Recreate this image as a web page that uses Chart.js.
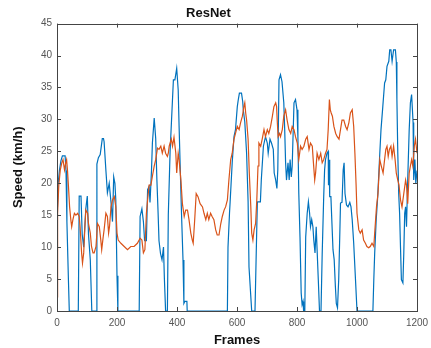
<!DOCTYPE html>
<html>
<head>
<meta charset="utf-8">
<script src="https://cdn.jsdelivr.net/npm/chart.js@4/dist/chart.umd.min.js"></script>
<style>
  html, body { margin: 0; padding: 0; background: #fff; }
  #wrap { width: 431px; height: 348px; }
</style>
</head>
<body>
<div id="wrap"><canvas id="myChart" width="431" height="348"></canvas></div>
<script>
// values (frame, speed)
let blueFrames = [0, 4, 8, 13, 18, 27, 30, 33, 38, 41, 71, 74, 80, 84, 89, 96, 101, 105, 111, 116, 130, 133, 138, 144, 151, 155, 157, 163, 168, 174, 180, 185, 189, 193, 196, 200, 203,
  274, 277, 283, 288, 292, 298, 302, 307, 310, 315, 318, 324, 329, 333, 337, 340, 345, 350, 355, 358, 362, 368, 371, 377, 388, 393, 399, 404, 407, 410, 415, 420, 423, 426, 433, 434,
  568, 570, 575, 577, 584, 590, 595, 601, 604, 608, 615, 619, 621, 626, 632, 637, 640, 649, 660, 666, 668, 678, 681, 688, 695, 701, 704, 710, 715, 721, 724, 729, 733, 736, 740, 745, 750, 756, 759, 762, 765, 770, 774, 777, 781, 784, 790, 795, 800,
  803, 806, 810, 814, 817, 820, 822, 826, 829, 834, 838, 842, 845, 849, 853, 856, 860, 864, 867, 871, 875, 880, 884, 889, 892, 895, 900, 904, 905, 907, 909, 913, 916, 920, 924, 928, 931, 935, 939, 943, 945, 950, 954, 957, 960, 965, 970, 976, 980, 984, 989, 995, 1000,
  1053, 1056, 1059, 1064, 1069, 1076, 1080, 1086, 1092, 1096, 1100, 1106, 1109, 1113, 1117, 1122, 1128, 1131, 1133, 1136, 1139, 1142, 1145, 1148, 1153, 1156, 1159, 1162, 1165, 1169, 1174, 1178, 1182, 1187, 1189, 1193, 1196, 1200]
let blueSpeed = [14, 20, 22, 23.5, 24.3, 24.3, 22, 14, 5, 0, 0, 18, 18, 12, 10, 16, 18, 12, 8, 0, 0, 23, 24, 24.5, 27, 27, 26.5, 22, 18.5, 20, 17, 14, 21, 20, 17.4, 5.5, 0,
  0, 14.8, 16, 14, 11, 11, 19, 19.5, 17, 22, 26.3, 30.2, 27, 20.5, 15.3, 11, 9, 8, 10, 5, 0, 0, 15, 25, 36.2, 36.2, 38, 34.6, 28.9, 23.7, 15.3, 8, 1.2, 1.5, 1.5, 0,
  0, 10, 15.3, 17, 23.2, 27.3, 28.4, 32, 33, 34.1, 34.1, 32.8, 31.5, 29.6, 24.7, 17.1, 6.9, 0, 0, 13.2, 17.1, 17.1, 20.5, 25.8, 27.3, 26.3, 24.7, 26.9, 26.3, 25.3, 21.6, 20.5, 19.2, 22.1, 36.2, 37, 35.9, 32.6, 28.4, 23.2, 20.5, 23.2, 20.5, 23.7, 21, 22.7, 32.6, 33.1, 31.5,
  27.3, 18.4, 11.6, 2.8, 1, 1.5, 0, 0, 11.6, 15.3, 17.1, 15.3, 13.2, 14.3, 13.2, 11.1, 9.1, 13.2, 9.6, 4.9, 0, 0, 9, 17.9, 22.1, 23.7, 24.7, 25, 19.7, 23.7, 17.9, 17.9, 14.3, 9.6, 8, 3.8, 1.2, 0.5, 4.9, 12.7, 16.9, 17, 22.1, 23.2, 18.4, 16.6, 16.3, 17, 16.3, 14.3, 10.6, 4.9, 0,
  0, 4.9, 9.1, 14.3, 17.9, 24.7, 28.4, 32, 35.7, 36.2, 38.3, 39.1, 40.9, 40.9, 39.1, 40.9, 40.9, 39, 33.1, 24.7, 18.4, 15.3, 10, 4.9, 4.4, 9.1, 15.3, 16.3, 13.2, 20.5, 28.4, 32.6, 33.9, 29.5, 20.5, 23.7, 20, 22]

let orangeFrames = [0, 1, 3, 6, 11, 16, 20, 25, 29, 32, 35, 38, 42, 46, 49, 53, 58, 63, 69, 74, 77, 82, 85, 89, 93, 96, 102, 105, 111, 115, 120, 124, 130, 135, 141, 146, 149, 154, 157, 163, 168, 172, 175, 180, 185, 191, 196, 200,
  204, 213, 224, 235, 246, 257, 268, 277, 283, 288, 293, 298, 302, 307, 313, 318, 324, 329, 335, 340, 346, 351, 357, 362, 368, 371, 374, 381, 385, 390, 396, 399,
  404, 407, 413, 418, 424, 429, 435, 440, 446, 451, 454, 459, 464, 470, 477, 485, 490, 496, 501, 506, 512, 517, 523, 529, 534, 540, 546, 551, 557, 562, 568, 573, 579, 584, 590, 595,
  601, 607, 612, 618, 623, 626, 629, 632, 637, 641, 646, 649, 653, 657, 662, 666, 670, 673, 679, 684, 690, 695, 701, 706, 712, 718, 723, 729, 732, 734, 737, 742, 745, 751, 756, 762, 767, 773, 779, 784, 790, 795,
  801, 806, 812, 817, 823, 829, 834, 840, 845, 851, 854, 859, 862, 867, 873, 879, 884, 889, 895, 900, 904, 908, 911, 914, 918, 923, 929, 934, 940, 945, 950, 956, 962, 967, 973, 978, 984, 989, 993, 997,
  1000, 1006, 1011, 1017, 1022, 1028, 1033, 1039, 1044, 1050, 1056, 1059, 1065, 1070, 1076, 1081, 1087, 1092, 1096, 1100, 1104, 1108, 1113, 1117, 1122, 1127, 1131, 1136, 1140, 1145, 1150, 1156, 1162, 1165, 1169, 1174, 1178, 1182, 1186, 1191, 1195, 1200]
let orangeSpeed = [2.2, 5.5, 15.3, 19.7, 22.1, 23.2, 23.7, 22.1, 23.2, 23.7, 22, 19.7, 16.3, 14.3, 13.2, 14.3, 15.3, 15, 15.3, 14.8, 13.2, 9.1, 7.5, 9.1, 13.2, 15.8, 15.3, 13.7, 12.2, 10.1, 9.1, 9.1, 10.1, 13.7, 13.2, 11.1, 9.6, 11.6, 12.7, 15.3, 14.8, 12.2, 13.2, 16.3, 17.4, 17.9, 16.3, 12.2,
  11.1, 10.6, 10.1, 9.6, 10.1, 10.1, 10.6, 11.4, 11.1, 9.1, 9.6, 15.3, 17.4, 19.7, 19.7, 21.1, 22.7, 23.7, 25.5, 25.3, 25.8, 24.7, 25.8, 24.7, 24.2, 24.7, 25.8, 26.9, 25.8, 27.2, 24.7, 21.6,
  24.7, 23.7, 20.5, 16.8, 14.8, 15.8, 15.8, 14.3, 12.2, 11.1, 10.6, 14.3, 18.4, 17.9, 16.8, 16.3, 15.3, 14.3, 15.3, 14.3, 15.3, 14.8, 14.3, 12.7, 11.9, 11.9, 13.7, 14.8, 15.8, 16.3, 17.4, 20.5, 23.7, 24.7, 26.9, 27.8,
  28.9, 28.4, 29.5, 30.5, 32, 32.6, 31, 29.9, 26.9, 21.6, 16.3, 12.2, 11.1, 12.7, 13.7, 17.4, 22.7, 26.3, 25.8, 26.9, 28.4, 27.3, 28.4, 27.8, 28.9, 30.5, 32, 32.6, 32, 29.9, 27.3, 27.8, 27.3, 28.4, 30.5, 31.5, 29.9, 28.4, 27.8, 28.9, 28.4, 27.3,
  26.3, 23.7, 25.8, 25.3, 25.8, 26.9, 27.3, 25.3, 26.3, 25.8, 23.7, 20.5, 21.6, 24.7, 23.7, 24.7, 23.2, 23.7, 24.7, 25.3, 28.4, 33.1, 31.5, 31, 30.5, 28.9, 27.8, 27.3, 26.9, 28.4, 29.9, 29.9, 28.9, 28.4, 29.5, 31, 31.5, 28.9, 24.7, 19.7,
  15.3, 12.7, 12.2, 12.7, 11.1, 10.6, 10.1, 9.9, 10.1, 10.6, 10.1, 12.2, 16.3, 18.4, 23.7, 22.7, 21.6, 23.7, 25.3, 25.8, 24.2, 25.3, 25.8, 24.2, 25.8, 23.7, 21.6, 20.5, 19.7, 17.4, 16.3, 18.4, 20.5, 19.7, 16.8, 21.6, 22.7, 23.7, 22.7, 25.8, 26.9, 24.7]

let xTicks = [0, 200, 400, 600, 800, 1000, 1200]
let yTicks = [0, 5, 10, 15, 20, 25, 30, 35, 40, 45]

function toPoints(xs, ys) {
    return xs.map((x, i) => ({ x: x, y: ys[i] }))
}

// matlab style box with inward ticks on all four sides
let boxPlugin = {
    id: 'box',
    afterDraw(chart) {
        let c = chart.ctx
        let a = chart.chartArea
        let xs = chart.scales.x
        let ys = chart.scales.y
        c.save()
        c.strokeStyle = '#444'
        c.lineWidth = 1
        c.beginPath()
        xTicks.forEach(t => {
            let px = Math.round(xs.getPixelForValue(t)) + 0.5
            c.moveTo(px, a.bottom); c.lineTo(px, a.bottom - 4)
            c.moveTo(px, a.top); c.lineTo(px, a.top + 4)
        })
        yTicks.forEach(t => {
            let py = Math.round(ys.getPixelForValue(t)) + 0.5
            c.moveTo(a.left, py); c.lineTo(a.left + 4, py)
            c.moveTo(a.right, py); c.lineTo(a.right - 4, py)
        })
        c.stroke()
        c.strokeRect(Math.round(a.left) + 0.5, Math.round(a.top) + 0.5, Math.round(a.right - a.left), Math.round(a.bottom - a.top))
        c.restore()
    }
}

let ctx = document.getElementById('myChart').getContext('2d')
new Chart(ctx, {
    type: 'line',
    data: {
        datasets: [{
            label: 'blue',
            data: toPoints(blueFrames, blueSpeed),
            borderColor: '#0072BD',
            borderWidth: 1.2,
            pointRadius: 0,
            tension: 0,
            order: 2
        }, {
            label: 'orange',
            data: toPoints(orangeFrames, orangeSpeed),
            borderColor: '#D95319',
            borderWidth: 1.2,
            pointRadius: 0,
            tension: 0,
            order: 1
        }]
    },
    options: {
        responsive: false,
        animation: false,
        layout: { padding: { left: 0, right: 14, top: 3, bottom: 0 } },
        plugins: {
            legend: { display: false },
            tooltip: { enabled: false },
            title: {
                display: true,
                text: 'ResNet',
                color: '#111',
                font: { family: 'Liberation Sans', size: 13, weight: 'bold' },
                padding: { top: 3, bottom: 2 }
            }
        },
        scales: {
            x: {
                type: 'linear',
                min: 0,
                max: 1200,
                afterBuildTicks: s => { s.ticks = xTicks.map(v => ({ value: v })) },
                afterFit: s => { s.height = 37; s.paddingLeft = 0; s.paddingRight = 0 },
                grid: { display: false, drawTicks: false },
                border: { display: false },
                ticks: { color: '#555', padding: 6, maxRotation: 0, callback: v => String(v), font: { family: 'Liberation Sans', size: 10 } },
                title: { display: true, text: 'Frames', color: '#111', padding: { top: 2, bottom: 0 }, font: { family: 'Liberation Sans', size: 13, weight: 'bold' } }
            },
            y: {
                min: 0,
                max: 45,
                afterBuildTicks: s => { s.ticks = yTicks.map(v => ({ value: v })) },
                afterFit: s => { s.width = 57 },
                grid: { display: false, drawTicks: false },
                border: { display: false },
                ticks: { color: '#555', padding: 5, callback: v => String(v), font: { family: 'Liberation Sans', size: 10 } },
                title: { display: true, text: 'Speed (km/h)', color: '#111', padding: { top: 11, bottom: 2 }, font: { family: 'Liberation Sans', size: 13, weight: 'bold' } }
            }
        }
    },
    plugins: [boxPlugin]
})
</script>
</body>
</html>
